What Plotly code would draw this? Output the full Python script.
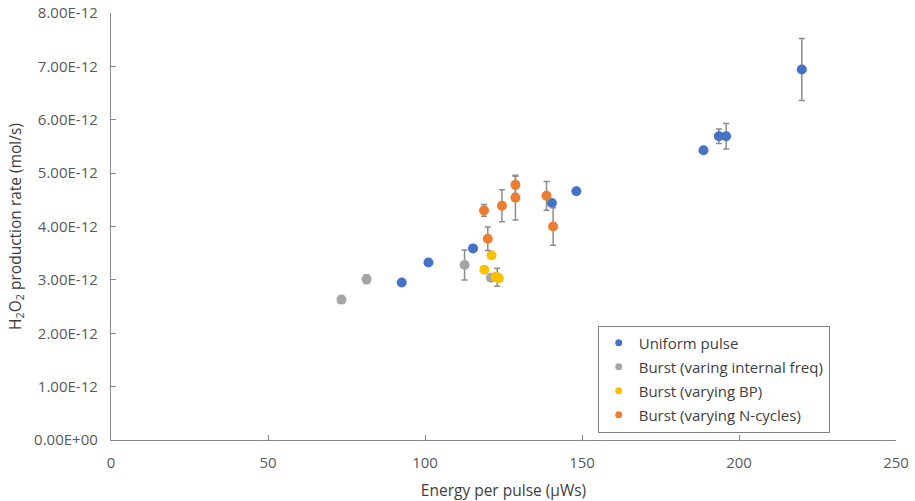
import plotly.graph_objects as go

# Uniform pulse
uni_x = [92.6, 101.1, 115.3, 140.4, 148.2, 188.7, 193.6, 195.9, 220.0]
uni_y = [2.95, 3.325, 3.59, 4.44, 4.66, 5.43, 5.69, 5.69, 6.94]
uni_e = [0, 0, 0, 0, 0, 0, 0.135, 0.24, 0.58]

# Burst (varing internal freq)
gry_x = [73.4, 81.4, 112.6, 121.0, 123.0]
gry_y = [2.63, 3.01, 3.28, 3.04, 3.05]
gry_e = [0.06, 0.08, 0.28, 0.0, 0.17]

# Burst (varying BP)
yel_x = [118.9, 121.2, 122.5, 123.5]
yel_y = [3.19, 3.46, 3.06, 3.03]
yel_e = [0, 0, 0, 0]

# Burst (varying N-cycles)
org_x = [118.8, 120.0, 124.5, 128.8, 128.8, 138.7, 140.8]
org_y = [4.30, 3.77, 4.39, 4.78, 4.54, 4.575, 4.00]
org_e = [0.11, 0.22, 0.30, 0.16, 0.42, 0.27, 0.35]

series = [
    ("Uniform pulse", uni_x, uni_y, uni_e, "#4472C4"),
    ("Burst (varing internal freq)", gry_x, gry_y, gry_e, "#A5A5A5"),
    ("Burst (varying BP)", yel_x, yel_y, yel_e, "#FFC000"),
    ("Burst (varying N-cycles)", org_x, org_y, org_e, "#ED7D31"),
]

y_ticks = [i * 1e-12 for i in range(9)]
y_ticktext = ["0.00E+00"] + [f"{i}.00E-12" for i in range(1, 9)]

FONT = "Open Sans"
fig = go.Figure()
for i, (name, xs, ys, es, col) in enumerate(series):
    fig.add_trace(go.Scatter(
        x=xs, y=[v * 1e-12 for v in ys], name=name, mode="markers",
        legendgroup=f"g{i}", showlegend=False,
        marker=dict(color=col, size=10),
        error_y=dict(type="data", array=[e * 1e-12 for e in es], visible=True,
                     color="#8C8C8C", thickness=1.5, width=3),
    ))
for i, (name, xs, ys, es, col) in enumerate(series):
    fig.add_trace(go.Scatter(
        x=[None], y=[None], name=name, mode="markers",
        legendgroup=f"g{i}", showlegend=True,
        marker=dict(color=col, size=7),
    ))

fig.update_layout(
    width=915, height=501,
    margin=dict(l=111, r=19, t=13, b=61),
    paper_bgcolor="white", plot_bgcolor="white",
    font=dict(family=FONT, size=14, color="#595959"),
    showlegend=True,
    legend=dict(x=0.62, y=0.268, xanchor="left", yanchor="top",
                bordercolor="#7F7F7F", borderwidth=1, bgcolor="white",
                font=dict(family=FONT, size=15, color="#404040"),
                tracegroupgap=1.5, itemwidth=30),
    xaxis=dict(range=[0, 250], tickvals=[0, 50, 100, 150, 200, 250],
               showgrid=False, zeroline=False, showline=True, automargin=False,
               linecolor="#868686", linewidth=1.3, ticks="inside", ticklen=5,
               tickcolor="#868686", tickfont=dict(size=15), ticklabelstandoff=9,
               title=dict(text="Energy per pulse (μWs)", font=dict(size=15.5, color="#404040"), standoff=20)),
    yaxis=dict(range=[0, 8e-12], tickvals=y_ticks, ticktext=y_ticktext,
               showgrid=False, zeroline=False, showline=True, automargin=False,
               linecolor="#868686", linewidth=1.3, ticks="inside", ticklen=5,
               tickcolor="#868686", tickfont=dict(size=15), ticklabelstandoff=9,
               title=dict(text="H<sub>2</sub>O<sub>2</sub> production rate (mol/s)",
                          font=dict(size=15.5, color="#404040"), standoff=8)),
)

fig.write_html("out.html")
